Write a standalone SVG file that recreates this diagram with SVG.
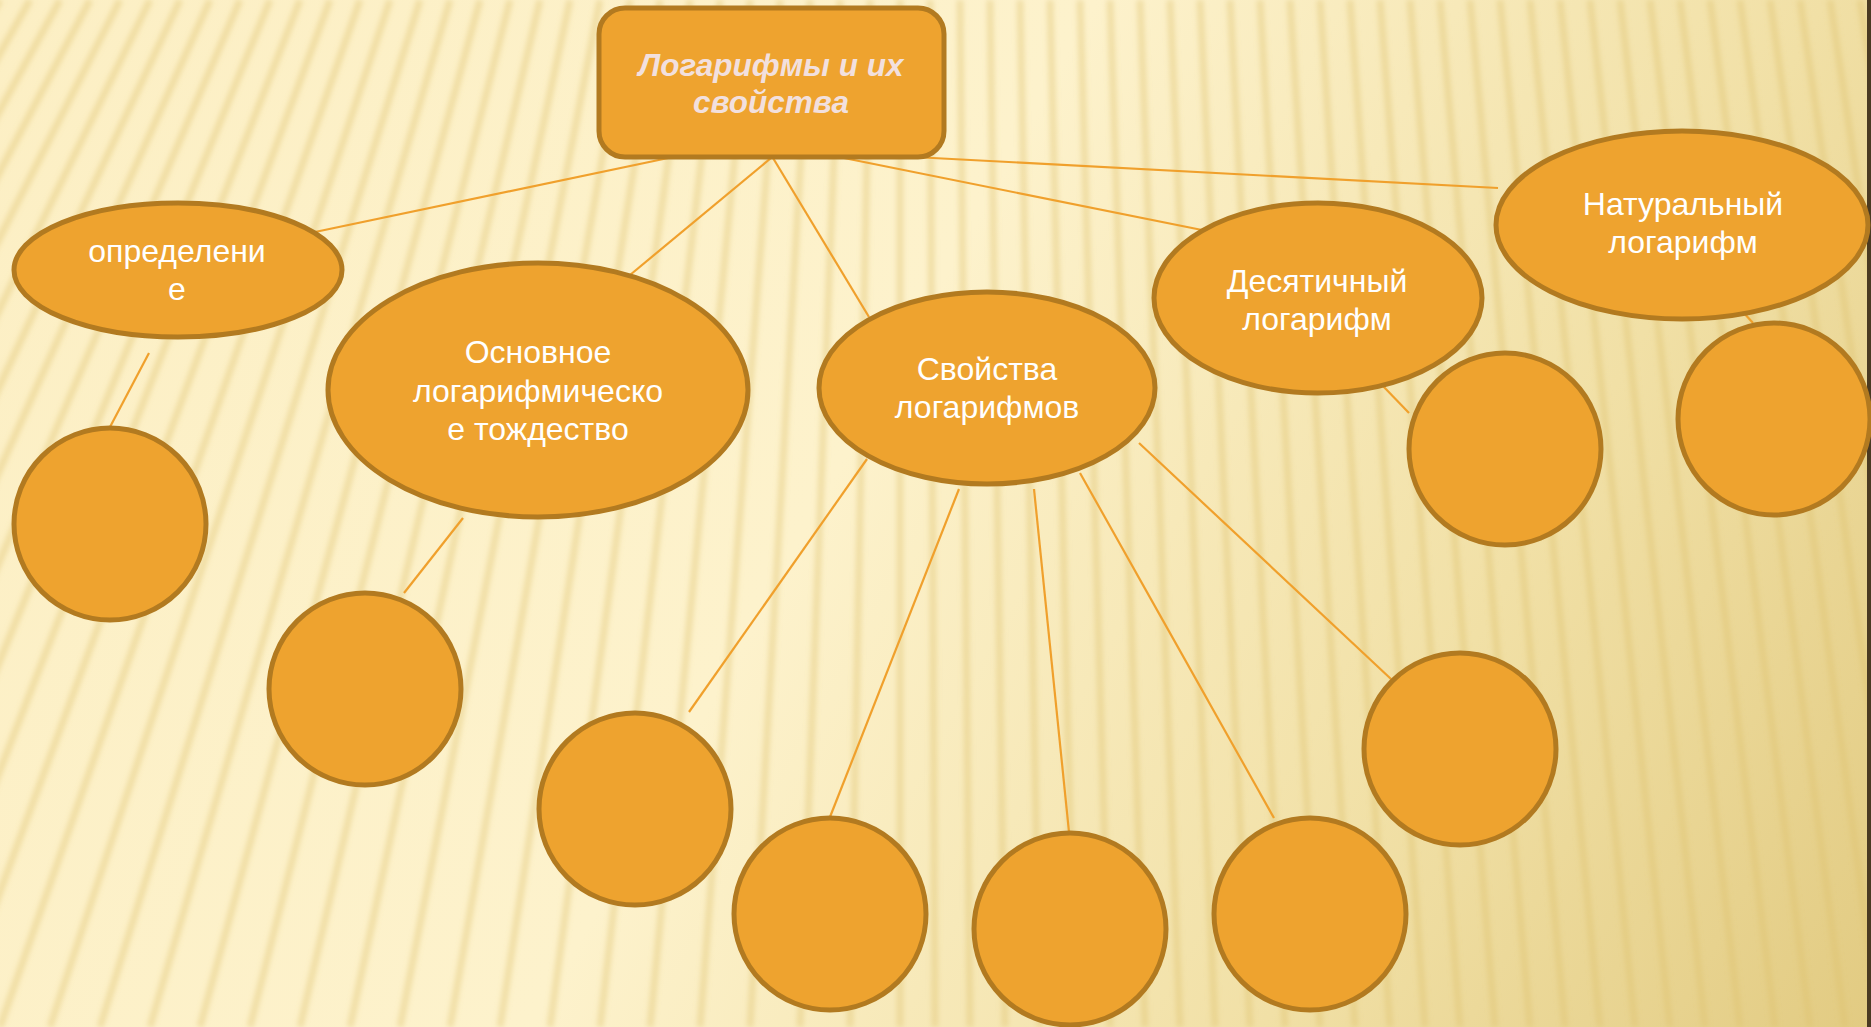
<svg xmlns="http://www.w3.org/2000/svg" width="1871" height="1027" viewBox="0 0 1871 1027">
<defs>
<linearGradient id="bg" x1="0" y1="0" x2="1871" y2="1027" gradientUnits="userSpaceOnUse">
<stop offset="0" stop-color="#fcefc4"/>
<stop offset="0.45" stop-color="#fdf2cc"/>
<stop offset="0.75" stop-color="#f1e0a6"/>
<stop offset="1" stop-color="#e2cb82"/>
</linearGradient>
<filter id="soft" x="-5%" y="-5%" width="110%" height="110%"><feGaussianBlur stdDeviation="2.8"/></filter>
<style>
.node{fill:#eea32f;stroke:#b27a20;stroke-width:5}
.conn line{stroke:#f0a02c;stroke-width:2.2;fill:none}
.lbl{font-family:"Liberation Sans",Arial,sans-serif;font-size:32px;fill:#ffffff;text-anchor:middle}
.title{font-family:"Liberation Sans",Arial,sans-serif;font-size:31.5px;font-weight:bold;font-style:italic;fill:#f2e0de;text-anchor:middle}
</style>
</defs>
<rect x="0" y="0" width="1871" height="1027" fill="url(#bg)"/>
<path filter="url(#soft)" stroke="#dcbf6c" stroke-opacity="0.38" stroke-width="7" fill="none" d="M0 0l-600 1027M30 0l-580 1027M60 0l-560 1027M90 0l-540 1027M120 0l-520 1027M150 0l-500 1027M180 0l-480 1027M210 0l-460 1027M240 0l-440 1027M270 0l-420 1027M300 0l-400 1027M330 0l-380 1027M360 0l-360 1027M390 0l-340 1027M420 0l-320 1027M450 0l-300 1027M480 0l-280 1027M510 0l-260 1027M540 0l-240 1027M570 0l-220 1027M600 0l-200 1027M630 0l-180 1027M660 0l-160 1027M690 0l-140 1027M720 0l-120 1027M750 0l-100 1027M780 0l-80 1027M810 0l-60 1027M840 0l-40 1027M870 0l-20 1027M900 0l0 1027M930 0l5 1027M960 0l10 1027M990 0l15 1027M1020 0l20 1027M1050 0l25 1027M1080 0l30 1027M1110 0l35 1027M1140 0l40 1027M1170 0l45 1027M1200 0l50 1027M1230 0l55 1027M1260 0l60 1027M1290 0l65 1027M1320 0l70 1027M1350 0l75 1027M1380 0l80 1027M1410 0l85 1027M1440 0l90 1027M1470 0l95 1027M1500 0l100 1027M1530 0l105 1027M1560 0l110 1027M1590 0l115 1027M1620 0l120 1027M1650 0l125 1027M1680 0l130 1027M1710 0l135 1027M1740 0l140 1027M1770 0l145 1027M1800 0l150 1027M1830 0l155 1027M1860 0l160 1027"/>
<rect x="1867" y="0" width="4" height="1027" fill="#4a3a22"/>
<g id="connectors" class="conn">
<line x1="673" y1="157" x2="315" y2="232"/>
<line x1="771" y1="158" x2="630" y2="275"/>
<line x1="773" y1="158" x2="869" y2="317"/>
<line x1="839" y1="157" x2="1202" y2="230"/>
<line x1="914" y1="157" x2="1498" y2="188"/>
<line x1="149" y1="353" x2="110" y2="427"/>
<line x1="463" y1="518" x2="404" y2="593"/>
<line x1="867" y1="459" x2="689" y2="712"/>
<line x1="959" y1="489" x2="830" y2="817"/>
<line x1="1034" y1="489" x2="1069" y2="832"/>
<line x1="1080" y1="473" x2="1274" y2="818"/>
<line x1="1139" y1="443" x2="1391" y2="679"/>
<line x1="1382" y1="385" x2="1409" y2="413"/>
<line x1="1743" y1="312" x2="1753" y2="323"/>
</g>
<g id="root">
<rect class="node" x="599" y="8" width="345" height="149" rx="26"/>
<text class="title" x="771" y="76">Логарифмы и их</text>
<text class="title" x="771" y="113">свойства</text>
</g>
<g id="definition">
<ellipse class="node" cx="178" cy="270" rx="164" ry="67"/>
<text class="lbl" x="177" y="262">определени</text>
<text class="lbl" x="177" y="300">е</text>
</g>
<g id="identity">
<ellipse class="node" cx="538" cy="390" rx="210" ry="127"/>
<text class="lbl" x="538" y="363">Основное</text>
<text class="lbl" x="538" y="402">логарифмическо</text>
<text class="lbl" x="538" y="440">е тождество</text>
</g>
<g id="properties">
<ellipse class="node" cx="987" cy="388" rx="168" ry="96"/>
<text class="lbl" x="987" y="380">Свойства</text>
<text class="lbl" x="987" y="418">логарифмов</text>
</g>
<g id="decimal">
<ellipse class="node" cx="1318" cy="298" rx="164" ry="95"/>
<text class="lbl" x="1317" y="292">Десятичный</text>
<text class="lbl" x="1317" y="330">логарифм</text>
</g>
<g id="natural">
<ellipse class="node" cx="1682" cy="225" rx="186" ry="94"/>
<text class="lbl" x="1683" y="215">Натуральный</text>
<text class="lbl" x="1683" y="253">логарифм</text>
</g>
<g id="c1"><circle class="node" cx="110" cy="524" r="96"/></g>
<g id="c2"><circle class="node" cx="365" cy="689" r="96"/></g>
<g id="c3"><circle class="node" cx="635" cy="809" r="96"/></g>
<g id="c4"><circle class="node" cx="830" cy="914" r="96"/></g>
<g id="c5"><circle class="node" cx="1070" cy="929" r="96"/></g>
<g id="c6"><circle class="node" cx="1310" cy="914" r="96"/></g>
<g id="c7"><circle class="node" cx="1460" cy="749" r="96"/></g>
<g id="c8"><circle class="node" cx="1505" cy="449" r="96"/></g>
<g id="c9"><circle class="node" cx="1774" cy="419" r="96"/></g>
</svg>
